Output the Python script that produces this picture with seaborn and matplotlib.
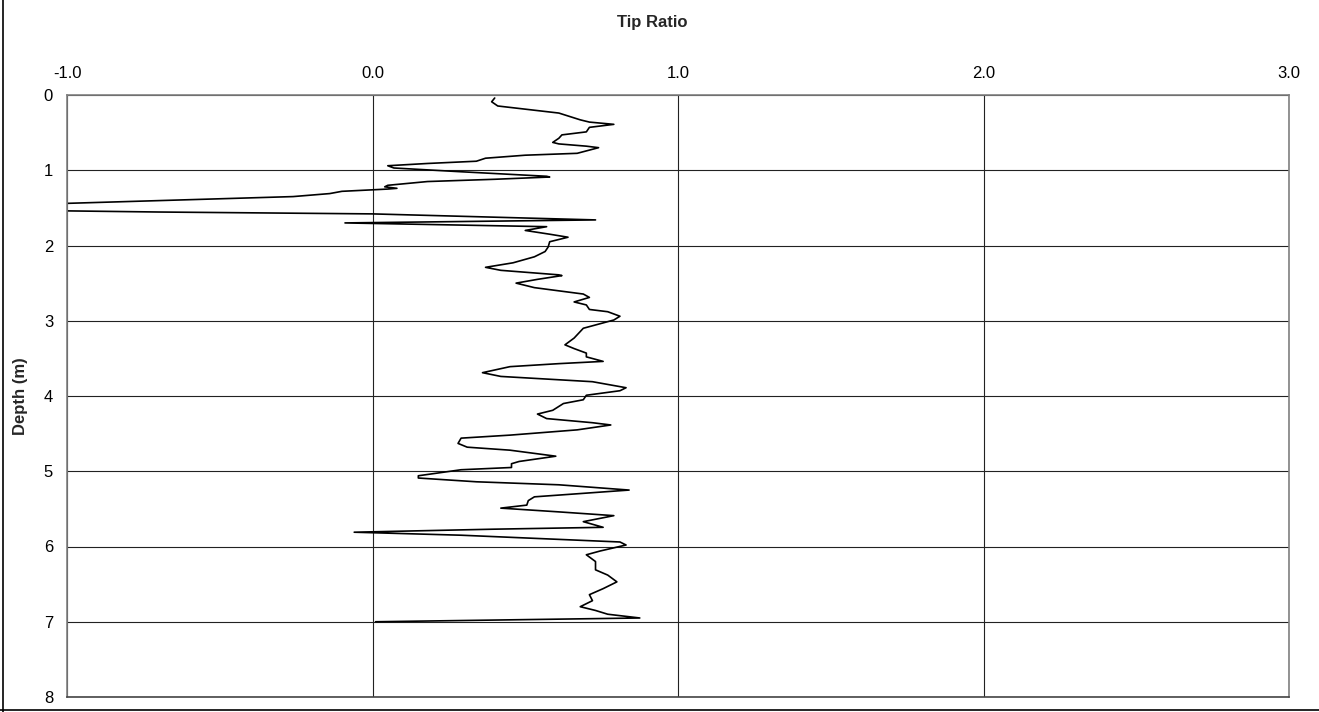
import matplotlib
matplotlib.use("Agg")
import matplotlib.pyplot as plt
import seaborn as sns
import pandas as pd
from matplotlib.lines import Line2D

# Cone penetration profile: tip ratio against depth
depth_m = [
    0.04, 0.09, 0.146, 0.24, 0.33, 0.36, 0.39, 0.43, 0.49, 0.53, 0.575, 0.63, 0.65,
    0.68, 0.70, 0.775, 0.80, 0.84, 0.88, 0.91, 0.94, 0.97, 1.02, 1.08, 1.09, 1.12,
    1.15, 1.20, 1.22, 1.24, 1.25, 1.26, 1.28, 1.31, 1.35, 1.39, 1.44, 1.49, 1.54,
    1.555, 1.57, 1.58, 1.66, 1.70, 1.75, 1.80, 1.85, 1.89, 1.95, 2.02, 2.08, 2.15,
    2.23, 2.29, 2.33, 2.39, 2.40, 2.45, 2.50, 2.56, 2.645, 2.69, 2.75, 2.79, 2.85,
    2.88, 2.94, 2.99, 3.04, 3.10, 3.23, 3.32, 3.37, 3.43, 3.48, 3.54, 3.57, 3.61,
    3.69, 3.74, 3.81, 3.89, 3.93, 3.99, 4.05, 4.10, 4.19, 4.24, 4.30, 4.355, 4.385,
    4.45, 4.52, 4.56, 4.63, 4.68, 4.72, 4.80, 4.87, 4.90, 4.95, 4.98, 5.06, 5.09,
    5.14, 5.18, 5.25, 5.34, 5.39, 5.45, 5.49, 5.54, 5.59, 5.67, 5.745, 5.77, 5.81,
    5.85, 5.94, 5.98, 6.06, 6.11, 6.20, 6.31, 6.38, 6.47, 6.56, 6.64, 6.72, 6.80,
    6.85, 6.90, 6.95, 7.00,
]
tip_ratio = [
    0.40, 0.39, 0.41, 0.61, 0.68, 0.71, 0.79, 0.71, 0.70, 0.62, 0.61, 0.59, 0.61,
    0.70, 0.74, 0.67, 0.50, 0.37, 0.34, 0.18, 0.05, 0.07, 0.29, 0.57, 0.58, 0.40,
    0.18, 0.05, 0.04, 0.08, 0.05, 0.00, -0.10, -0.14, -0.26, -0.59, -1.00, -1.35, -1.00,
    -0.70, -0.26, 0.00, 0.73, -0.09, 0.57, 0.50, 0.58, 0.64, 0.58, 0.575, 0.565, 0.53,
    0.46, 0.37, 0.42, 0.61, 0.62, 0.54, 0.47, 0.53, 0.69, 0.71, 0.66, 0.70, 0.71,
    0.77, 0.81, 0.79, 0.745, 0.69, 0.66, 0.63, 0.66, 0.70, 0.70, 0.755, 0.61, 0.45,
    0.36, 0.42, 0.72, 0.83, 0.81, 0.70, 0.69, 0.625, 0.59, 0.54, 0.57, 0.72, 0.78,
    0.67, 0.45, 0.29, 0.28, 0.31, 0.45, 0.60, 0.48, 0.455, 0.455, 0.29, 0.15, 0.15,
    0.34, 0.61, 0.84, 0.53, 0.51, 0.505, 0.42, 0.61, 0.79, 0.69, 0.755, 0.395, -0.06,
    0.29, 0.81, 0.83, 0.745, 0.70, 0.73, 0.73, 0.77, 0.80, 0.755, 0.71, 0.72, 0.68,
    0.73, 0.77, 0.875, 0.01,
]
x_ticks = [-1.0, 0.0, 1.0, 2.0, 3.0]
y_ticks = [0, 1, 2, 3, 4, 5, 6, 7, 8]

sns.set_theme(style="white")
plt.rcParams["font.family"] = ["Liberation Sans", "DejaVu Sans"]

fig = plt.figure(figsize=(13.19, 7.12), dpi=100)
ax = fig.add_axes([67 / 1319, 1 - 697 / 712, (1289 - 67) / 1319, (697 - 95) / 712])

df = pd.DataFrame({"Depth": depth_m, "Tip Ratio": tip_ratio})
sns.lineplot(data=df, x="Tip Ratio", y="Depth", sort=False, estimator=None,
             color="black", linewidth=1.2, ax=ax)

ax.set_xlim(-1, 3)
ax.set_ylim(8, 0)
ax.set_xticks(x_ticks)
ax.set_xticklabels([f"{v:.1f}" for v in x_ticks])
ax.set_yticks(y_ticks)
ax.set_yticklabels([str(v) for v in y_ticks])
ax.xaxis.tick_top()
ax.tick_params(axis="x", length=0, pad=10, labelsize=12, colors="black")
ax.tick_params(axis="y", length=0, pad=10, labelsize=12, colors="black")

ax.grid(True, color="#222222", linewidth=0.8)
ax.set_axisbelow(True)
for side in ["top", "left", "right"]:
    ax.spines[side].set_color("#808080")
    ax.spines[side].set_linewidth(1.2)
ax.spines["bottom"].set_color("#444444")
ax.spines["bottom"].set_linewidth(1.2)

ax.set_xlabel("")
ax.set_ylabel("Depth (m)", fontsize=12, fontweight="bold")
ax.yaxis.set_label_coords((28 - 67) / (1289 - 67), 0.5)
fig.text(652 / 1319, 1 - 22 / 712, "Tip Ratio", ha="center", va="center",
         fontsize=12, fontweight="bold")

# outer chart frame (left and bottom edges)
fig.add_artist(Line2D([3 / 1319, 3 / 1319], [0, 1], transform=fig.transFigure,
                      color="black", linewidth=1.2))
fig.add_artist(Line2D([0, 1], [2 / 712, 2 / 712], transform=fig.transFigure,
                      color="black", linewidth=1.2))

fig.savefig("out.png", dpi=100)
